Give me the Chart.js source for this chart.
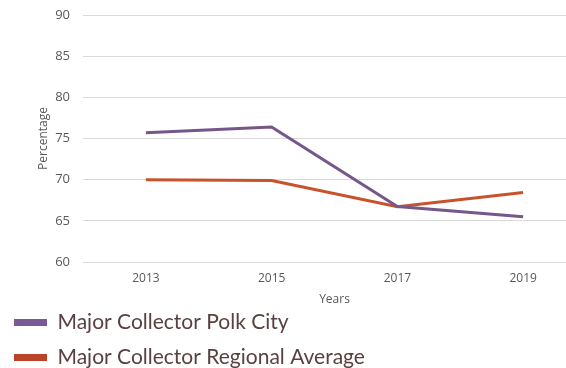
<!DOCTYPE html>
<html>
<head>
<meta charset="utf-8">
<script src="https://cdn.jsdelivr.net/npm/chart.js@4"></script>
<style>
  html, body { margin: 0; padding: 0; background: #fff; overflow: hidden; }
  #wrap { width: 586px; height: 368px; position: relative; }
</style>
</head>
<body>
<div id="wrap"><canvas id="trendChart"></canvas></div>
<script>
const years = ['2013', '2015', '2017', '2019'];
const polkCity = [75.7, 76.4, 66.75, 65.5];
const regionalAverage = [70.0, 69.9, 66.7, 68.45];

const tickGrey = '#595959';

new Chart(document.getElementById('trendChart'), {
    type: 'line',
    data: {
        labels: years,
        datasets: [
            {
                label: 'Major Collector Polk City',
                data: polkCity,
                borderColor: '#75578a',
                backgroundColor: '#7a5a92',
                borderWidth: 3,
                pointRadius: 0,
                tension: 0,
            },
            {
                label: 'Major Collector Regional Average',
                data: regionalAverage,
                borderColor: '#c8532a',
                backgroundColor: '#bb4428',
                borderWidth: 3,
                pointRadius: 0,
                tension: 0,
            },
        ],
    },
    options: {
        responsive: true,
        maintainAspectRatio: false,
        animation: false,
        layout: {
            padding: { left: 0, top: 15, right: 0, bottom: -10 },
        },
        plugins: {
            legend: {
                position: 'bottom',
                align: 'start',
                labels: {
                    boxWidth: 33,
                    boxHeight: 7,
                    padding: 14,
                    color: '#5a4141',
                    font: { family: 'Lato', size: 21 },
                    generateLabels: (chart) => {
                        const items = Chart.defaults.plugins.legend.labels.generateLabels(chart);
                        items.forEach((item) => {
                            item.lineWidth = 0;
                        });
                        return items;
                    },
                },
            },
            tooltip: { enabled: false },
        },
        scales: {
            x: {
                offset: true,
                grid: { display: false, drawTicks: false },
                border: { display: false },
                ticks: {
                    color: tickGrey,
                    padding: 9,
                    font: { family: 'Open Sans', size: 12 },
                },
                title: {
                    display: true,
                    text: 'Years',
                    color: tickGrey,
                    padding: { top: 0, bottom: -9 },
                    font: { family: 'Open Sans', size: 12 },
                },
                afterFit: (scale) => {
                    scale.height = 36;
                },
            },
            y: {
                min: 60,
                max: 90,
                ticks: {
                    stepSize: 5,
                    color: tickGrey,
                    padding: 13,
                    font: { family: 'Open Sans', size: 13 },
                },
                grid: {
                    color: '#d9d9d9',
                    drawTicks: false,
                },
                border: { display: false },
                title: {
                    display: true,
                    text: 'Percentage',
                    color: tickGrey,
                    padding: { top: 36, bottom: 0 },
                    font: { family: 'Open Sans', size: 12 },
                },
                afterFit: (scale) => {
                    scale.width = 83;
                    scale.paddingTop = 0;
                    scale.paddingBottom = 0;
                },
            },
        },
    },
});
</script>
</body>
</html>
